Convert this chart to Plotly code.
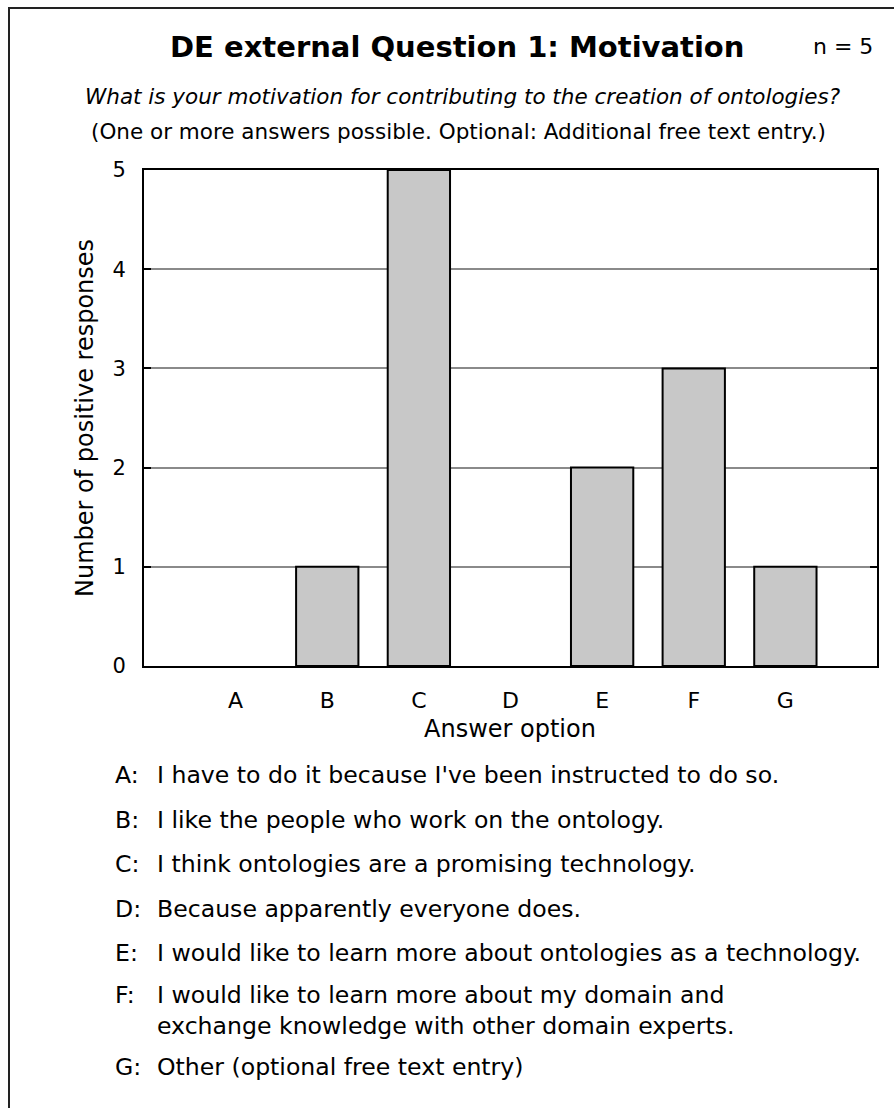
import plotly.graph_objects as go

# ── Data ──────────────────────────────────────────────────────────────────────

options = ["A", "B", "C", "D", "E", "F", "G"]
responses = [0, 1, 5, 0, 2, 3, 1]
y_ticks = [0, 1, 2, 3, 4, 5]

option_texts = [
    "I have to do it because I've been instructed to do so.",
    "I like the people who work on the ontology.",
    "I think ontologies are a promising technology.",
    "Because apparently everyone does.",
    "I would like to learn more about ontologies as a technology.",
    "I would like to learn more about my domain and<br>exchange knowledge with other domain experts.",
    "Other (optional free text entry)",
]

title = "DE external Question 1: Motivation"
n_text = "n = 5"
question = "What is your motivation for contributing to the creation of ontologies?"
note = "(One or more answers possible. Optional: Additional free text entry.)"

# ── Layout geometry (pixels) ──────────────────────────────────────────────────

W, H = 894, 1108
PL, PR, PT, PB = 144, 877, 170, 666
FONT = "DejaVu Sans, Liberation Sans, sans-serif"


def xp(px):
    return (px - PL) / (PR - PL)


def yp(py):
    return (PB - py) / (PB - PT)


# empty bars get no outline (the reference shows nothing at A and D)
outline = [2 if v > 0 else 0 for v in responses]

fig = go.Figure(go.Bar(
    x=options,
    y=responses,
    width=0.68,
    marker=dict(color="#c8c8c8", line=dict(color="#000000", width=outline)),
    showlegend=False,
))

fig.update_layout(
    width=W, height=H,
    margin=dict(l=PL, r=W - PR, t=PT, b=H - PB),
    paper_bgcolor="white",
    plot_bgcolor="white",
    font=dict(family=FONT, color="#000000", size=20),
    xaxis=dict(
        range=[-1, 7], showgrid=False, zeroline=False,
        showline=True, linecolor="#000000", linewidth=2, mirror=True,
        ticks="", tickfont=dict(size=22), ticklabelstandoff=14,
    ),
    yaxis=dict(
        range=[0, 5], tickvals=y_ticks, showgrid=True,
        gridcolor="#8a8a8a", gridwidth=1.5, zeroline=False,
        showline=True, linecolor="#000000", linewidth=2, mirror="ticks",
        ticks="inside", ticklen=7, tickwidth=2, tickcolor="#000000",
        tickfont=dict(size=21), ticklabelstandoff=12,
    ),
)

# outer frame (cropped at right and bottom)
fig.add_shape(type="rect", xref="paper", yref="paper",
              x0=xp(9), x1=xp(W + 20), y0=yp(H + 20), y1=yp(8),
              line=dict(color="#222222", width=2), fillcolor="rgba(0,0,0,0)")


def note_at(px, py, text, size=20, anchor="center", **kw):
    fig.add_annotation(x=xp(px), y=yp(py), xref="paper", yref="paper",
                       text=text, showarrow=False, xanchor=anchor,
                       yanchor="middle", font=dict(size=size, family=FONT,
                                                   color="#000000"), **kw)


# titles
note_at(457, 47, f"<b>{title}</b>", size=29)
note_at(843, 47, n_text, size=22)
note_at(462, 96, f"<i>{question}</i>", size=21.5)
note_at(458, 131, note, size=21.5)

# axis titles
note_at(510, 729, "Answer option", size=24)
note_at(85, 418, "Number of positive responses", size=24, textangle=-90)

# answer key
key_y = [775, 820, 864, 909, 953, 1010, 1067]
for letter, text, ky in zip(options, option_texts, key_y):
    note_at(113, ky - 15 if "<br>" in text else ky, f"{letter}:", size=23.6, anchor="left")
    note_at(155, ky, text, size=23.6, anchor="left", align="left")

fig.write_html("out.html", config={"displayModeBar": False},
               post_script="document.body.style.margin='0px';")
